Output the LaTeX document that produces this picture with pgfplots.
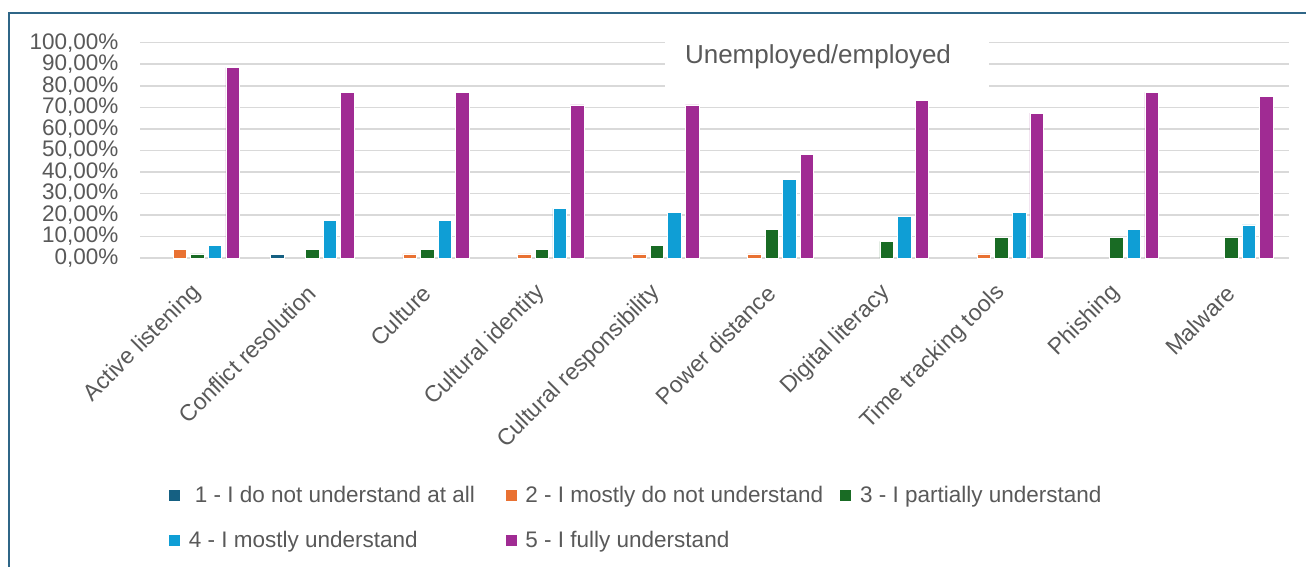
\documentclass[border=0pt]{standalone}
\usepackage{fontspec}
\setmainfont{Liberation Sans}
\usepackage{pgfplots}
\pgfplotsset{compat=1.18}
\definecolor{c1}{HTML}{156082}
\definecolor{c2}{HTML}{E97132}
\definecolor{c3}{HTML}{196B24}
\definecolor{c4}{HTML}{0F9ED5}
\definecolor{c5}{HTML}{A02B93}
\definecolor{txt}{HTML}{595959}
\definecolor{gridc}{HTML}{D9D9D9}
\definecolor{framec}{HTML}{2F6687}
\begin{document}
\begin{tikzpicture}[x=1pt,y=1pt]
\path[use as bounding box] (0,0) rectangle (1306,566);
\fill[white] (0,0) rectangle (1306,566);
\draw[framec, line width=1.5pt] (9,-2) -- (9,553) -- (1310,553);
\begin{axis}[at={(140pt,308pt)}, anchor=south west, scale only axis,
  width=1148.7pt, height=215.3pt,
  ybar=4.1pt, bar width=13.5pt,
  xmin=-0.5, xmax=9.5, ymin=0, ymax=100,
  xtick={0,...,9},
  xticklabels={Active listening,Conflict resolution,Culture,Cultural identity,Cultural responsibility,Power distance,Digital literacy,Time tracking tools,Phishing,Malware},
  ytick={0,10,...,100},
  yticklabels={0{,}00\%,10{,}00\%,20{,}00\%,30{,}00\%,40{,}00\%,50{,}00\%,60{,}00\%,70{,}00\%,80{,}00\%,90{,}00\%,100{,}00\%},
  ymajorgrids, grid style={gridc, line width=1.5pt},
  axis lines*=left,
  y axis line style={draw=none},
  x axis line style={gridc, line width=1.5pt},
  major tick length=0pt, tick style={draw=none},
  ticklabel style={text=txt},
  yticklabel style={font=\fontsize{22.5}{26}\selectfont, xshift=-18pt},
  xticklabel style={font=\fontsize{23}{27}\selectfont, xshift=2pt, yshift=-29pt, rotate=45, anchor=east},
  legend style={at={(axis description cs:0.0218,-1.04)}, anchor=north west, draw=none, fill=none,
    font=\fontsize{22.5}{26}\selectfont, text=txt, row sep=23pt,
    /tikz/every even column/.append style={column sep=0pt}},
  legend columns=3,
  legend cell align=left,
  legend image code/.code={\fill[#1] (0pt,-6pt) rectangle (12pt,6pt);},
]
\addplot[fill=c1, draw=white, line width=0.6pt] coordinates {(1,1.92)};
\addplot[fill=c2, draw=white, line width=0.6pt] coordinates {(0,3.85) (2,1.92) (3,1.92) (4,1.92) (5,1.92) (7,1.92)};
\addplot[fill=c3, draw=white, line width=0.6pt] coordinates {(0,1.92) (1,3.85) (2,3.85) (3,3.85) (4,5.77) (5,13.46) (6,7.69) (7,9.62) (8,9.62) (9,9.62)};
\addplot[fill=c4, draw=white, line width=0.6pt] coordinates {(0,5.77) (1,17.31) (2,17.31) (3,23.08) (4,21.15) (5,36.54) (6,19.23) (7,21.15) (8,13.46) (9,15.38)};
\addplot[fill=c5, draw=white, line width=0.6pt] coordinates {(0,88.46) (1,76.92) (2,76.92) (3,71.15) (4,71.15) (5,48.08) (6,73.08) (7,67.31) (8,76.92) (9,75.00)};
\legend{\makebox[320pt][l]{\hspace*{12pt}1 - I do not understand at all},\makebox[318pt][l]{\hspace*{6pt}2 - I mostly do not understand},\hspace*{6pt}3 - I partially understand,\hspace*{6pt}4 - I mostly understand,\hspace*{6pt}5 - I fully understand}
\end{axis}
\fill[white] (665,471) rectangle (989,535);
\node[text=txt, font=\fontsize{26}{30}\selectfont] at (818,509) {Unemployed/employed};
\end{tikzpicture}
\end{document}
